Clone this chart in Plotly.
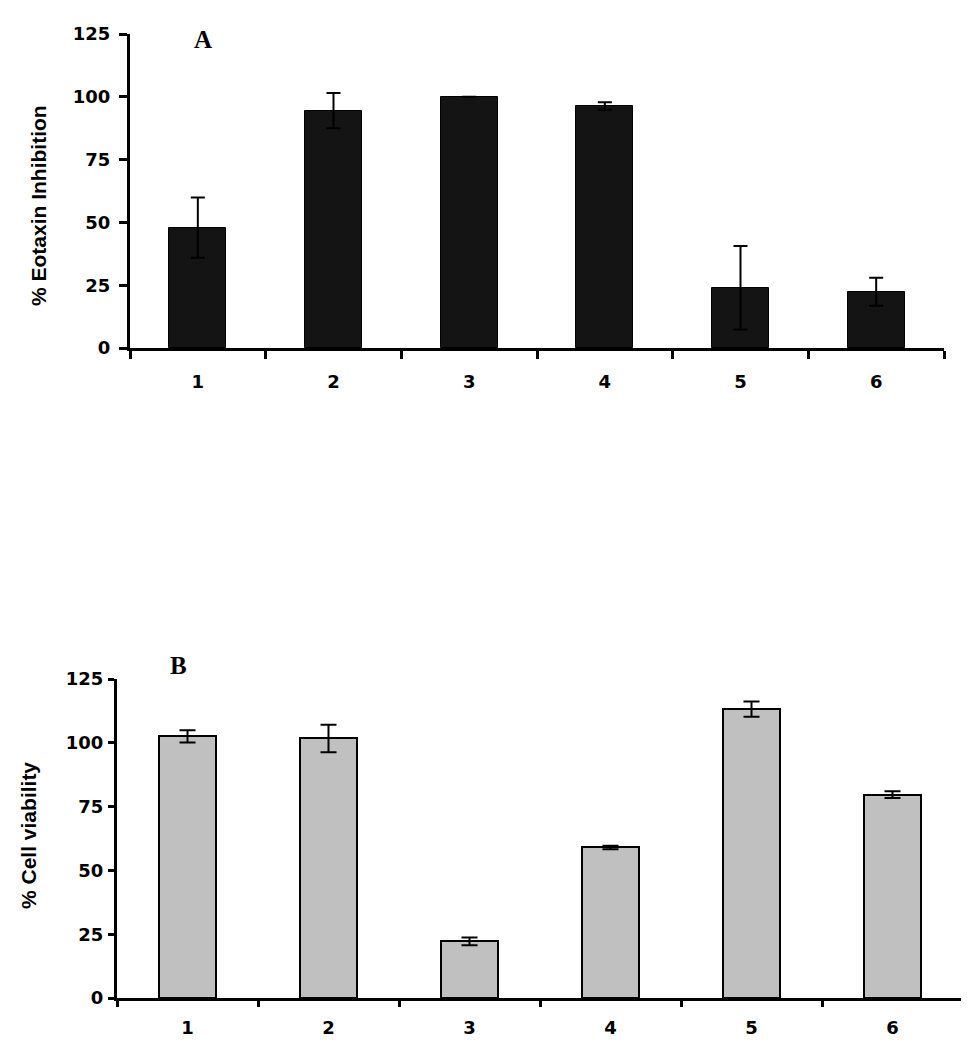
import plotly.graph_objects as go

categories = [1, 2, 3, 4, 5, 6]
eotaxin_inhibition = [47.9, 94.5, 100.0, 96.3, 24.0, 22.4]
eotaxin_err = [12.0, 7.0, 0.0, 1.5, 16.6, 5.6]
cell_viability = [102.5, 101.7, 22.2, 59.0, 113.2, 79.7]
viability_err = [2.4, 5.4, 1.5, 0.7, 3.0, 1.3]
y_ticks = [0, 25, 50, 75, 100, 125]
x_tick_labels = ["1", "2", "3", "4", "5", "6"]
boundaries = [0.5, 1.5, 2.5, 3.5, 4.5, 5.5, 6.5]

W, H = 969, 1050
OFF = 8  # page body margin
FONT = "Liberation Sans, Arial, sans-serif"
TICKFONT = "DejaVu Sans, Liberation Sans, sans-serif"


def px(x):
    return (x - OFF) / W


def py(y):
    return 1 - (y - OFF) / H


fig = go.Figure()

fig.add_trace(go.Bar(
    x=categories, y=eotaxin_inhibition, width=0.42,
    marker=dict(color="#141414", line=dict(color="#000000", width=1)),
    error_y=dict(type="data", array=eotaxin_err, visible=True, color="#000000", thickness=2, width=7),
    xaxis="x", yaxis="y", showlegend=False,
))

fig.add_trace(go.Bar(
    x=categories, y=cell_viability, width=0.41,
    marker=dict(color="#c0c0c0", line=dict(color="#000000", width=2)),
    error_y=dict(type="data", array=viability_err, visible=True, color="#000000", thickness=2, width=8),
    xaxis="x2", yaxis="y2", showlegend=False,
))

tickfont = dict(family=TICKFONT, size=18, color="#000000", weight="bold")


def xax(domain, anchor, standoff, tlen):
    return dict(
        domain=domain, anchor=anchor, range=[0.5, 6.5],
        tickvals=categories, ticktext=x_tick_labels, ticks="",
        ticklabelstandoff=standoff,
        showline=True, linecolor="#000000", linewidth=3,
        showgrid=False, zeroline=False, tickfont=tickfont,
        minor=dict(tickvals=boundaries, ticks="outside", ticklen=tlen, tickwidth=3,
                   tickcolor="#000000", showgrid=False),
    )


def yax(domain, anchor, standoff, tlen):
    return dict(
        domain=domain, anchor=anchor, range=[0, 125],
        tickvals=y_ticks, ticks="outside", ticklen=tlen, tickwidth=3, tickcolor="#000000",
        ticklabelstandoff=standoff,
        showline=True, linecolor="#000000", linewidth=3,
        showgrid=False, zeroline=False, tickfont=tickfont,
    )


def label(text, x, y, family, size, angle=0):
    return dict(text=text, x=px(x), y=py(y), xref="paper", yref="paper",
                xanchor="center", yanchor="middle", showarrow=False, textangle=angle,
                font=dict(family=family, size=size, color="#000000", weight="bold"))


fig.update_layout(
    width=W, height=H, margin=dict(l=0, r=0, t=0, b=0, pad=0, autoexpand=False),
    paper_bgcolor="white", plot_bgcolor="white",
    xaxis=xax([px(130), px(944)], "y", 15, 8),
    yaxis=yax([py(348), py(34)], "x", 5, 8),
    xaxis2=xax([px(117), px(963)], "y2", 11, 6),
    yaxis2=yax([py(998), py(679)], "x2", 1, 6),
    bargap=0,
    annotations=[
        label("A", 203, 40, "Liberation Serif, Times New Roman, serif", 25),
        label("B", 178, 665, "Liberation Serif, Times New Roman, serif", 25),
        label("% Eotaxin Inhibition", 38, 206, FONT, 21, -90),
        label("% Cell viability", 28, 836, FONT, 21, -90),
    ],
)

fig.write_html("out.html")
